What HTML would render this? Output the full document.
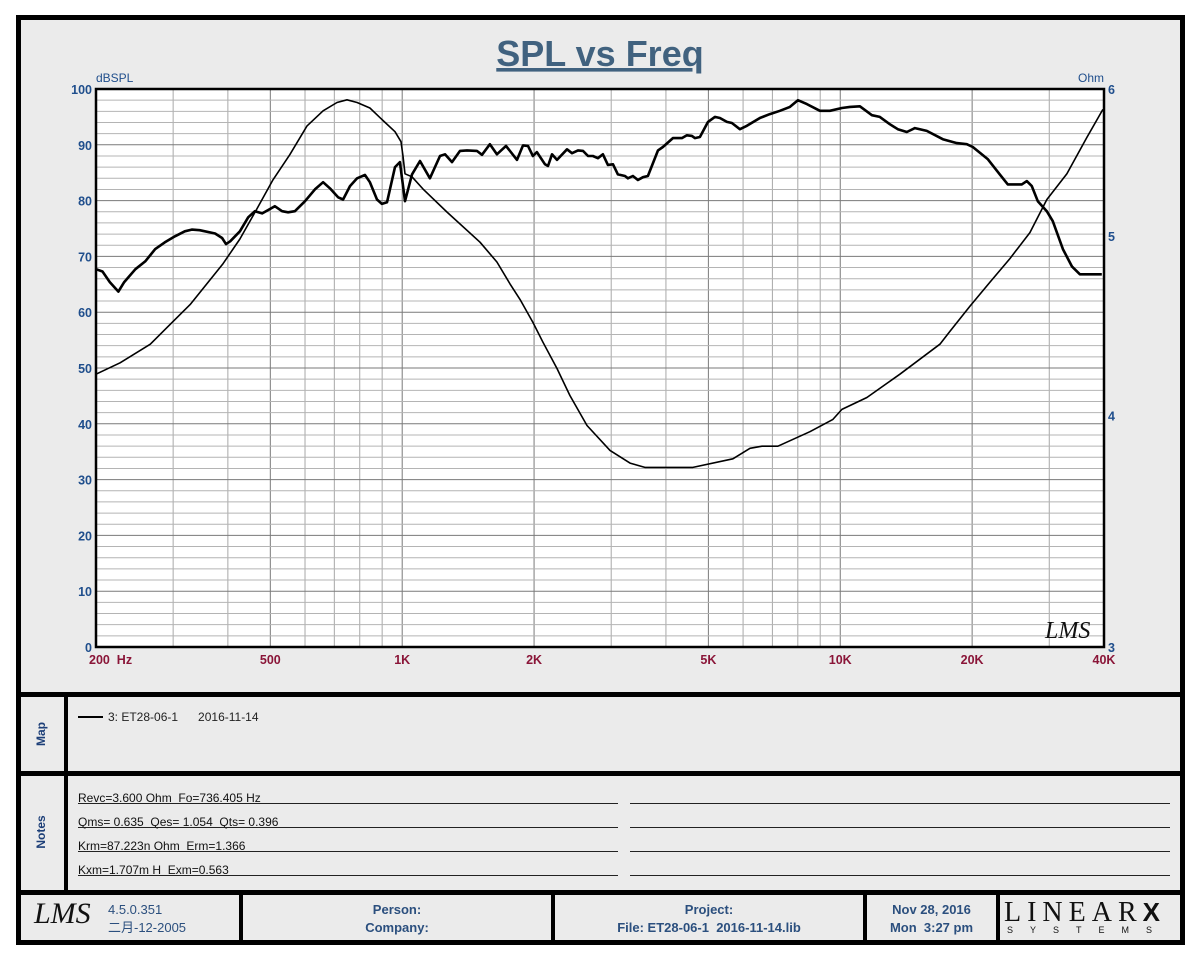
<!DOCTYPE html>
<html><head><meta charset="utf-8"><style>
html,body{margin:0;padding:0;background:#fff;}
body{width:1200px;height:960px;position:relative;overflow:hidden;font-family:"Liberation Sans","Noto Sans CJK SC",sans-serif;}
.abs{position:absolute;}
.frame{left:16px;top:15px;width:1159px;height:920px;border:5px solid #000;background:#ebebeb;}
.hbar{left:16px;width:1169px;height:5px;background:#000;}
.vbar{width:4px;background:#000;}
.side{color:#1d3f78;font-weight:bold;font-size:12px;transform:rotate(-90deg);transform-origin:center;text-align:center;width:60px;}
.note{left:78px;font-size:12px;color:#111;white-space:pre;}
.uline{height:1px;background:#222;}
.ft{color:#2b4f7e;font-size:13px;font-weight:bold;text-align:center;line-height:18px;}
</style></head><body>
<div class="abs frame"></div>
<svg class="abs" style="left:0;top:0" width="1200" height="960" id="plot">
<text x="600" y="66" text-anchor="middle" font-size="36" font-weight="bold" fill="#41627f" text-decoration="underline" font-family="Liberation Sans, sans-serif">SPL vs Freq</text>
<rect x="96" y="89" width="1008" height="558" fill="#fff"/>
<g id="grid"></g><g id="curves"></g>
<rect x="96" y="89" width="1008" height="558" fill="none" stroke="#000" stroke-width="2.5"/>
<text x="96" y="82" font-size="12" fill="#1f4e8c">dBSPL</text>
<text x="1104" y="82" font-size="12" fill="#1f4e8c" text-anchor="end">Ohm</text>
<g id="ticks" font-size="12.5" font-weight="600" font-family="Liberation Sans, sans-serif"></g>
<text x="1045" y="638" font-size="24" font-style="italic" font-family="Liberation Serif, serif" fill="#111">LMS</text>
</svg>
<div class="abs hbar" style="top:692px"></div>
<div class="abs hbar" style="top:771px"></div>
<div class="abs hbar" style="top:890px"></div>
<div class="abs vbar" style="left:64px;top:692px;height:203px"></div>
<div class="abs side" style="left:11px;top:727px">Map</div>
<div class="abs side" style="left:11px;top:825px">Notes</div>
<div class="abs" style="left:78px;top:716px;width:25px;height:2px;background:#000"></div>
<div class="abs" style="left:108px;top:710px;font-size:12px;color:#222;white-space:pre">3: ET28-06-1      2016-11-14</div>
<div class="abs note" style="top:791px">Revc=3.600 Ohm  Fo=736.405 Hz</div>
<div class="abs note" style="top:815px">Qms= 0.635  Qes= 1.054  Qts= 0.396</div>
<div class="abs note" style="top:839px">Krm=87.223n Ohm  Erm=1.366</div>
<div class="abs note" style="top:863px">Kxm=1.707m H  Exm=0.563</div>
<div class="abs uline" style="left:78px;width:540px;top:803px"></div><div class="abs uline" style="left:630px;width:540px;top:803px"></div>
<div class="abs uline" style="left:78px;width:540px;top:827px"></div><div class="abs uline" style="left:630px;width:540px;top:827px"></div>
<div class="abs uline" style="left:78px;width:540px;top:851px"></div><div class="abs uline" style="left:630px;width:540px;top:851px"></div>
<div class="abs uline" style="left:78px;width:540px;top:875px"></div><div class="abs uline" style="left:630px;width:540px;top:875px"></div>
<div class="abs vbar" style="left:239px;top:892px;height:50px"></div>
<div class="abs vbar" style="left:551px;top:892px;height:50px"></div>
<div class="abs vbar" style="left:863px;top:892px;height:50px"></div>
<div class="abs vbar" style="left:996px;top:892px;height:50px"></div>
<div class="abs" style="left:34px;top:897px;font-size:30px;font-style:italic;font-family:'Liberation Serif',serif;color:#111">LMS</div>
<div class="abs ft" style="left:108px;top:901px;text-align:left;font-weight:normal">4.5.0.351<br>二月-12-2005</div>
<div class="abs ft" style="left:243px;top:901px;width:308px">Person:<br>Company:</div>
<div class="abs ft" style="left:555px;top:901px;width:308px">Project:<br>File: ET28-06-1&nbsp; 2016-11-14.lib</div>
<div class="abs ft" style="left:867px;top:901px;width:129px;white-space:pre">Nov 28, 2016
Mon  3:27 pm</div>
<div class="abs" style="left:1004px;top:897px;font-family:'Liberation Serif',serif;font-size:28px;letter-spacing:6px;color:#111;font-weight:normal">LINEAR<b style="font-family:'Liberation Sans',sans-serif;font-size:26px">X</b></div>
<div class="abs" style="left:1007px;top:925px;font-size:9px;letter-spacing:17px;color:#111">SYSTEMS</div>
<script>
const splFreq=[200,207,215,225,232,246,259,273,287,303,319,331,345,374,388,396,405,426,445,461,479,494,512,532,549,569,600,632,660,684,714,733,760,789,822,844,876,899,923,963,988,1015,1053,1098,1157,1220,1252,1299,1355,1406,1481,1521,1586,1645,1726,1828,1887,1937,1988,2030,2118,2152,2198,2256,2378,2441,2519,2586,2655,2725,2797,2872,2949,3028,3107,3225,3276,3363,3452,3545,3639,3836,3937,4150,4351,4467,4585,4658,4783,4989,5175,5313,5512,5658,5902,6123,6556,6909,7281,7674,8005,8392,8985,9470,10085,10518,11085,11810,12313,12977,13535,14190,14801,15760,17143,18453,19447,20070,21724,23133,24128,25962,26653,27361,28239,29607,30557,32221,33781,35235,39542];
const splDb=[67.7,67.3,65.4,63.7,65.4,67.7,69.1,71.3,72.5,73.6,74.5,74.8,74.7,74.1,73.3,72.2,72.7,74.5,77.0,78.1,77.7,78.3,79.0,78.1,77.9,78.1,79.9,82.0,83.3,82.2,80.6,80.2,82.6,84.0,84.6,83.3,80.2,79.4,79.7,86.0,86.9,79.9,84.7,87.1,84.0,88.0,88.3,86.9,88.9,89.0,88.9,88.2,90.1,88.3,89.8,87.3,89.9,89.8,88.0,88.7,86.5,86.2,88.3,87.3,89.2,88.5,89.0,88.9,88.0,88.0,87.6,88.3,86.4,86.5,84.7,84.4,84.0,84.4,83.7,84.2,84.4,89.0,89.6,91.2,91.2,91.7,91.6,91.2,91.4,94.1,95.0,94.8,94.1,93.9,92.8,93.4,94.8,95.5,96.1,96.8,98.0,97.3,96.1,96.1,96.6,96.8,96.9,95.3,95.0,93.7,92.8,92.3,93.0,92.5,91.0,90.3,90.1,89.6,87.4,84.7,82.9,82.9,83.5,82.6,79.9,78.1,76.3,71.3,68.2,66.8,66.8];
const impFreq=[200,227,266,290,328,390,426,466,507,554,606,660,710,748,789,844,904,963,994,1004,1015,1053,1115,1265,1505,1645,1762,1857,1988,2096,2256,2415,2641,2981,3311,3582,4610,5688,6221,6626,7206,8525,9623,10085,11504,13682,16882,17793,19757,21958,24386,27093,29620,32907,36563,39765];
const impOhm=[4.21,4.27,4.37,4.46,4.59,4.83,4.98,5.17,5.36,5.53,5.73,5.84,5.90,5.92,5.90,5.86,5.77,5.69,5.62,5.52,5.40,5.38,5.30,5.15,4.96,4.84,4.71,4.62,4.49,4.38,4.24,4.10,3.95,3.83,3.77,3.75,3.75,3.79,3.84,3.85,3.85,3.92,3.98,4.03,4.09,4.21,4.37,4.44,4.58,4.72,4.86,5.02,5.23,5.40,5.65,5.85];
const xTickVals=[200,500,1000,2000,5000,10000,20000,40000];
const xTickLabels=["200  Hz","500","1K","2K","5K","10K","20K","40K"];
const yTickVals=[0,10,20,30,40,50,60,70,80,90,100];
const rTickVals=[3,4,5,6];

const X0=96,X1=1104,Y0=89,Y1=647;
const fx=f=>X0+(Math.log10(f/200)/Math.log10(40000/200))*(X1-X0);
const yDb=d=>Y1-(d/100)*(Y1-Y0);
const yOhm=o=>Y1-(Math.log2(o/3))*(Y1-Y0);
const NS="http://www.w3.org/2000/svg";
function mk(tag,attrs,parent){const e=document.createElementNS(NS,tag);for(const k in attrs)e.setAttribute(k,attrs[k]);parent.appendChild(e);return e;}
const grid=document.getElementById('grid');
const gridF=[];
for(let f=200;f<1000;f+=100)gridF.push(f);
for(let f=1000;f<10000;f+=1000)gridF.push(f);
for(let f=10000;f<=40000;f+=10000)gridF.push(f);
gridF.forEach(f=>{const x=fx(f);const major=[1000,10000,500,2000,5000,20000].includes(f);
const l=mk('line',{x1:x,x2:x,y1:Y0,y2:Y1,stroke:major?'#7a7a7a':'#a8a8a8','stroke-width':1},grid);

});
for(let d=2;d<100;d+=2){const y=yDb(d);
const l=mk('line',{x1:X0,x2:X1,y1:y,y2:y,stroke:d%10===0?'#7a7a7a':'#b4b4b4','stroke-width':1},grid);

}
const ticks=document.getElementById('ticks');
xTickVals.forEach((v,i)=>{const x=fx(v);const first=i===0;
const t=mk('text',{x:first?x-7:x,y:664,'text-anchor':first?'start':'middle',fill:'#8a1538','xml:space':'preserve'},ticks);
t.style.whiteSpace='pre';t.textContent=xTickLabels[i];

});
yTickVals.forEach(v=>{const t=mk('text',{x:92,y:yDb(v)+5,'text-anchor':'end',fill:'#1f4e8c'},ticks);t.textContent=v;

});
rTickVals.forEach(v=>{const t=mk('text',{x:1108,y:yOhm(v)+5,fill:'#1f4e8c'},ticks);t.textContent=v;

});
const curves=document.getElementById('curves');
const spl=mk('polyline',{points:splFreq.map((f,i)=>fx(f).toFixed(1)+','+yDb(splDb[i]).toFixed(1)).join(' '),fill:'none',stroke:'#000','stroke-width':2.6,'stroke-linejoin':'round'},curves);


const imp=mk('polyline',{points:impFreq.map((f,i)=>fx(f).toFixed(1)+','+yOhm(impOhm[i]).toFixed(1)).join(' '),fill:'none',stroke:'#000','stroke-width':1.6,'stroke-linejoin':'round'},curves);


</script>
</body></html>
